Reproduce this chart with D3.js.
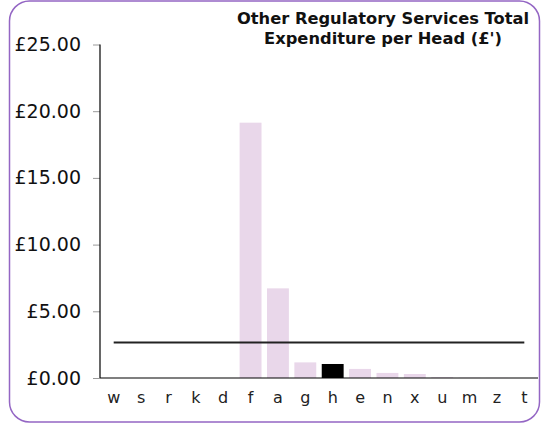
<!DOCTYPE html>
<html>
<head>
<meta charset="utf-8">
<script src="https://cdn.jsdelivr.net/npm/d3@7"></script>
<style>
  html, body { margin: 0; padding: 0; background: #fff; }
  svg { display: block; }
  text { font-family: "DejaVu Sans", Verdana, sans-serif; }
</style>
</head>
<body>
<svg id="chart" width="542" height="424"></svg>
<script>
const categories = ["w","s","r","k","d","f","a","g","h","e","n","x","u","m","z","t"];
const values = [0, 0, 0, 0, 0, 19.14, 6.72, 1.17, 1.05, 0.68, 0.38, 0.30, 0.06, 0.02, 0.01, 0];
const highlight = "h";
const averageValue = 2.67;
const yTicks = [0, 5, 10, 15, 20, 25];
const titleLines = ["Other Regulatory Services Total", "Expenditure per Head (£')"];

const svg = d3.select("#chart");

// rounded border
svg.append("rect")
  .attr("x", 9.5).attr("y", 1).attr("width", 530).attr("height", 421)
  .attr("rx", 20).attr("ry", 20)
  .attr("fill", "#fff").attr("stroke", "#9466c4").attr("stroke-width", 1.5);

const x = d3.scaleBand().domain(categories).range([100, 538]).paddingInner(0.2).paddingOuter(0.1);
const y = d3.scaleLinear().domain([0, 25]).range([378, 44.5]);

// bars
svg.append("g").selectAll("rect")
  .data(categories.map((c, i) => ({c, v: values[i]})))
  .join("rect")
  .attr("x", d => x(d.c))
  .attr("width", x.bandwidth())
  .attr("y", d => y(d.v))
  .attr("height", d => y(0) - y(d.v))
  .attr("fill", d => d.c === highlight ? "#000" : "#e9d7ea");

// y axis
const yAxis = svg.append("g").attr("transform", "translate(100,0)")
  .call(d3.axisLeft(y).tickValues(yTicks).tickSize(7).tickPadding(12)
    .tickFormat(d => "£" + d3.format(".2f")(d)));
yAxis.select(".domain").remove();
yAxis.selectAll(".tick line").attr("stroke", "#999");
yAxis.selectAll(".tick text").attr("font-size", 19).attr("fill", "#111")
  .attr("font-family", "DejaVu Sans, Verdana, sans-serif");
svg.append("line").attr("x1", 100).attr("x2", 100).attr("y1", y(25)).attr("y2", y(0))
  .attr("stroke", "#000").attr("stroke-width", 1.2);

// x axis
const xAxis = svg.append("g").attr("transform", "translate(0,378)")
  .call(d3.axisBottom(x).tickSize(0).tickPadding(14));
xAxis.select(".domain").remove();
xAxis.selectAll(".tick text").attr("font-size", 16).attr("fill", "#222")
  .attr("font-family", "DejaVu Sans, Verdana, sans-serif");
svg.append("line").attr("x1", 100).attr("x2", 538).attr("y1", y(0)).attr("y2", y(0))
  .attr("stroke", "#000").attr("stroke-width", 1.2);

// average line
const firstC = x(categories[0]) + x.bandwidth() / 2;
const lastC = x(categories[categories.length - 1]) + x.bandwidth() / 2;
svg.append("line")
  .attr("x1", firstC).attr("x2", lastC)
  .attr("y1", y(averageValue)).attr("y2", y(averageValue))
  .attr("stroke", "#222").attr("stroke-width", 2);

// title
const title = svg.append("text").attr("text-anchor", "middle")
  .attr("font-weight", "bold").attr("font-size", 16.3).attr("fill", "#111");
titleLines.forEach((t, i) => {
  title.append("tspan").attr("x", 383).attr("y", 24 + i * 19.5).text(t);
});
</script>
</body>
</html>
